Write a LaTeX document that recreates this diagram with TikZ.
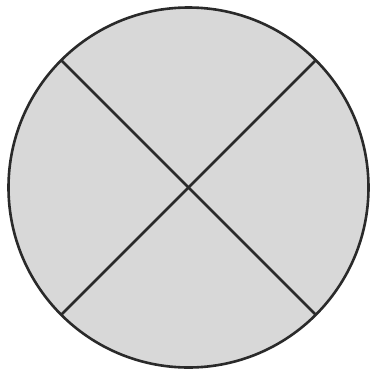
\documentclass[tikz,border=0pt]{standalone}
\usepackage{tikz}
\usetikzlibrary{calc}

\definecolor{discfill}{HTML}{D8D8D8}
\definecolor{discline}{HTML}{2A2A2A}

\begin{document}
\begin{tikzpicture}[x=1pt, y=-1pt, line width=2.6pt]
  \useasboundingbox (0,0) rectangle (372,373);
  % ------------------------------------------------------------------ the disc
  \coordinate (c) at (188.5,187.5);
  \fill[discfill] (c) circle[radius=180];
  % ------------------------------------------------------------------ the two diagonals
  \foreach \a in {45,135} {
    \draw[discline] ($(c)+(\a:180)$) -- ($(c)+(\a+180:180)$);
  }
  \draw[discline] (c) circle[radius=180];
\end{tikzpicture}
\end{document}
